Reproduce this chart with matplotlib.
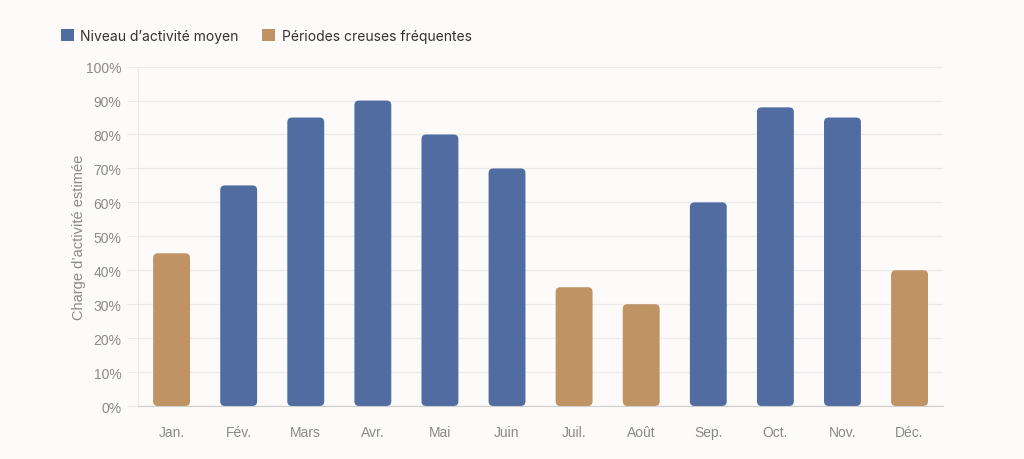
import matplotlib.pyplot as plt
from matplotlib.patches import FancyBboxPatch, Patch
import numpy as np

# donnees
mois = ['Jan.', 'Fév.', 'Mars', 'Avr.', 'Mai', 'Juin',
        'Juil.', 'Août', 'Sep.', 'Oct.', 'Nov.', 'Déc.']
charge = [45, 65, 85, 90, 80, 70, 35, 30, 60, 88, 85, 40]
creuse = [True, False, False, False, False, False,
          True, True, False, False, False, True]

bleu = '#516ca0'
ocre = '#c09364'
fond = '#fcfbf9'
gris = '#8a8a8a'

fig = plt.figure(figsize=(10.24, 4.6), dpi=100, facecolor=fond)
ax = fig.add_axes([0.1348, 0.1152, 0.7862, 0.7378], facecolor=fond)

largeur = 0.55
ax.set_xlim(-0.5, len(mois) - 0.5)
ax.set_ylim(0, 100)

# barres arrondies
asp = (100 / (0.7378 * 460)) / (len(mois) / (0.7862 * 1024))
for i, (v, c) in enumerate(zip(charge, creuse)):
    p = FancyBboxPatch((i - largeur / 2, 0), largeur, v,
                       boxstyle='round,pad=0,rounding_size=0.07',
                       mutation_aspect=asp,
                       facecolor=ocre if c else bleu, edgecolor='none',
                       zorder=3)
    ax.add_patch(p)

ax.set_xticks(range(len(mois)))
ax.set_xticklabels(mois, family='Liberation Sans', fontsize=10, color=gris)
ax.set_yticks(np.arange(0, 101, 10))
ax.set_yticklabels([f'{t}%' for t in range(0, 101, 10)],
                   family='Liberation Sans', fontsize=10, color=gris)
ax.tick_params(axis='x', length=0, pad=14)
ax.tick_params(axis='y', length=8, color='#ebebeb', pad=4)
ax.grid(axis='y', color='#ebebeb', linewidth=0.9, zorder=0)

for s in ['top', 'right']:
    ax.spines[s].set_visible(False)
ax.spines['left'].set_color('#ebebeb')
ax.spines['bottom'].set_color('#cfcfcf')
ax.spines['bottom'].set_zorder(4)

ax.set_ylabel("Charge d’activité estimée", family='Liberation Sans',
              fontsize=10.5, color=gris, labelpad=0)

handles = [Patch(facecolor=bleu, label='Niveau d’activité moyen'),
           Patch(facecolor=ocre, label='Périodes creuses fréquentes')]
fig.legend(handles=handles, loc='upper left', bbox_to_anchor=(0.047, 0.962),
           ncol=2, frameon=False, handlelength=0.95, handleheight=0.95,
           handletextpad=0.45, columnspacing=1.7,
           prop={'family': 'Inter', 'size': 10}, labelcolor='#333333')

fig.savefig('out.png', dpi=100, facecolor=fond)
